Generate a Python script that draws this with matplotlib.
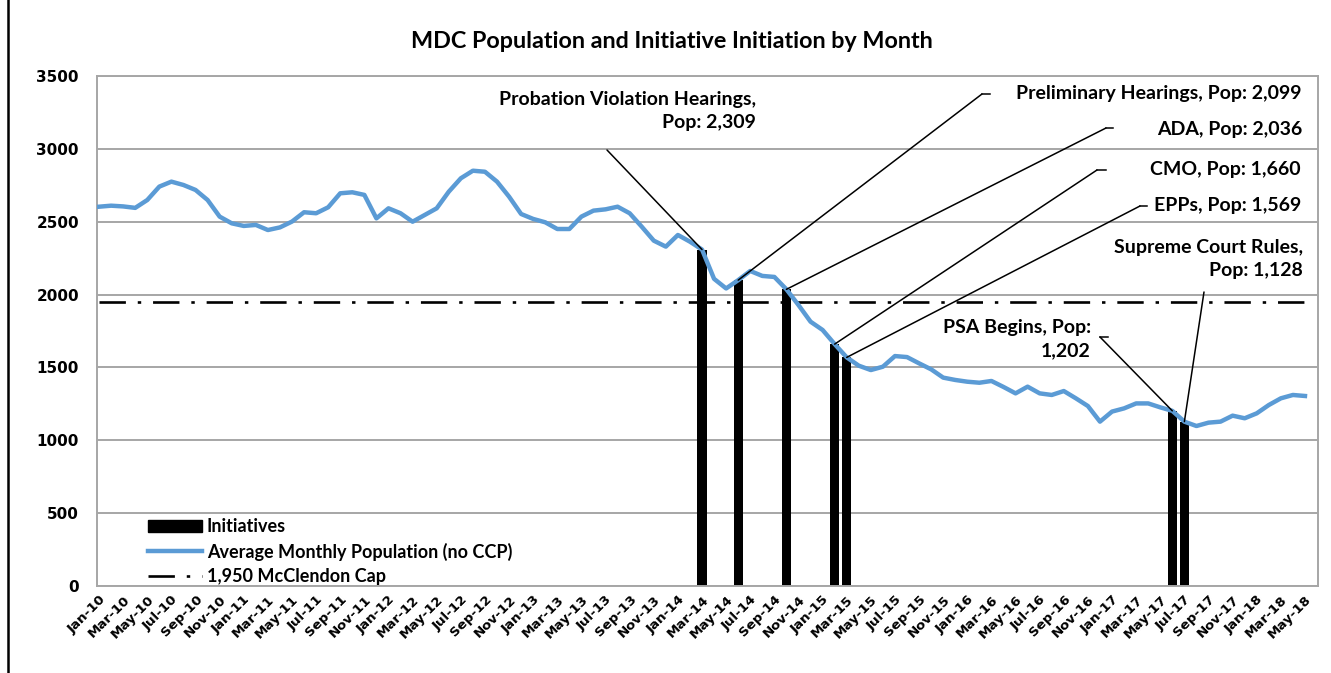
import matplotlib
matplotlib.use("Agg")
import matplotlib.pyplot as plt
from matplotlib.lines import Line2D
from matplotlib.patches import Patch

# ---------------- data ----------------
month_abbr = ['Jan', 'Feb', 'Mar', 'Apr', 'May', 'Jun', 'Jul', 'Aug', 'Sep', 'Oct', 'Nov', 'Dec']
years = ['10', '11', '12', '13', '14', '15', '16', '17', '18']
months = [f"{m}-{y}" for y in years for m in month_abbr][:101]   # Jan-10 .. May-18

population = [
    2603, 2610, 2605, 2595, 2649, 2741, 2775, 2752, 2718, 2649, 2535, 2489,
    2471, 2478, 2443, 2461, 2501, 2565, 2558, 2599, 2695, 2702, 2684, 2523,
    2592, 2558, 2500, 2546, 2592, 2706, 2798, 2850, 2843, 2775, 2672, 2553,
    2519, 2496, 2450, 2450, 2535, 2576, 2585, 2603, 2558, 2466, 2370, 2329,
    2409, 2363, 2309, 2108, 2042, 2099, 2162, 2128, 2121, 2036, 1928, 1814,
    1757, 1660, 1569, 1512, 1482, 1505, 1578, 1571, 1528, 1487, 1430, 1414,
    1402, 1395, 1407, 1366, 1322, 1368, 1322, 1311, 1338, 1288, 1235, 1128,
    1197, 1219, 1253, 1253, 1226, 1202, 1128, 1098, 1121, 1128, 1169, 1151,
    1185, 1242, 1288, 1311, 1304,
]
cap_value = 1950

init_months = ['Mar-14', 'Jun-14', 'Oct-14', 'Feb-15', 'Mar-15', 'Jun-17', 'Jul-17']
init_values = [2309, 2099, 2036, 1660, 1569, 1202, 1128]
init_labels = [
    'Probation Violation Hearings,\nPop: 2,309',
    'Preliminary Hearings, Pop: 2,099',
    'ADA, Pop: 2,036',
    'CMO, Pop: 1,660',
    'EPPs, Pop: 1,569',
    'PSA Begins, Pop:\n1,202',
    'Supreme Court Rules,\nPop: 1,128',
]

# ---------------- figure ----------------
W, H = 1331, 673
fig = plt.figure(figsize=(W / 100, H / 100), dpi=100)
ax = fig.add_axes([97 / W, (H - 586) / H, (1318 - 97) / W, (586 - 76) / H])

LABEL_FONT = ['Lato', 'DejaVu Sans']
TICK_FONT = ['DejaVu Sans']
GRID = '#A6A6A6'
BLUE = '#5B9BD5'
CAP_DASH = (10, 4.5, 1.3, 4.5)

x = list(range(len(months)))
init_x = [months.index(m) for m in init_months]

ax.bar(init_x, init_values, width=0.75, color='black', zorder=2)
ax.plot(x, population, color=BLUE, lw=3.2, solid_joinstyle='round', zorder=3)
ax.plot(x, [cap_value] * len(x), color='black', lw=1.9, dashes=CAP_DASH, zorder=2.5)

ax.set_xlim(-0.17, 101.08)
ax.set_ylim(0, 3500)
ax.set_yticks(range(0, 3501, 500))
ax.set_yticklabels([str(v) for v in range(0, 3501, 500)],
                   fontfamily=TICK_FONT, fontweight='bold', fontsize=11)
ax.set_xticks(x[::2])
ax.set_xticklabels(months[::2], rotation=45, ha='right', va='top',
                   rotation_mode='anchor', fontfamily=TICK_FONT,
                   fontweight='bold', fontsize=9.6)
ax.tick_params(axis='both', length=0)
ax.tick_params(axis='y', pad=13)
ax.tick_params(axis='x', pad=5)
ax.grid(axis='y', color=GRID, lw=1.4, zorder=0)
ax.set_axisbelow(True)
for s in ax.spines.values():
    s.set_color(GRID)
    s.set_linewidth(1.4)

# title
fig.text(672 / W, 1 - 42 / H, 'MDC Population and Initiative Initiation by Month',
         ha='center', va='center', fontfamily=LABEL_FONT, fontweight='bold',
         fontsize=16.8)

# legend
handles = [
    Patch(facecolor='black', edgecolor='black'),
    Line2D([0], [0], color=BLUE, lw=3.2),
    Line2D([0], [0], color='black', lw=1.9, dashes=CAP_DASH),
]
leg = ax.legend(handles, ['Initiatives', 'Average Monthly Population (no CCP)',
                          '1,950 McClendon Cap'],
                loc='lower left', bbox_to_anchor=((138 - 97) / (1318 - 97), -0.017),
                frameon=False, prop={'family': LABEL_FONT, 'weight': 'bold', 'size': 13},
                handlelength=3.0, handleheight=0.65, handletextpad=0.25,
                labelspacing=0.4, borderaxespad=0.15)

# annotations: (text right x, text centre y, elbow x, elbow y, horizontal end x) in image px
def fp(px, py):
    return (px, H - py)

ann = [
    (756, 111, 607, 150, None),
    (1302, 94, 982, 94, 990),
    (1302, 130, 1106, 128, 1113),
    (1301, 169, 1097, 170, 1106),
    (1301, 205, 1140, 206, 1147),
    (1091, 339, 1100, 337, 1108),
    (1303, 259, 1204, 292, None),
]
for (tx, ty, ex, ey, hx), xi, v, lab in zip(ann, init_x, init_values, init_labels):
    fig.text(tx / W, 1 - ty / H, lab, ha='right', va='center', multialignment='right',
             fontfamily=LABEL_FONT, fontweight='bold', fontsize=14, linespacing=1.45)
    ax.annotate('', xy=(xi, v), xycoords='data',
                xytext=fp(ex, ey), textcoords='figure pixels',
                arrowprops=dict(arrowstyle='-', color='black', lw=1.1,
                                shrinkA=0, shrinkB=0), zorder=4)
    if hx is not None:
        fig.add_artist(Line2D([ex / W, hx / W], [1 - ey / H, 1 - ey / H],
                              color='black', lw=1.1))

# outer border (left edge of chart frame)
fig.add_artist(Line2D([8 / W, 8 / W], [0, 1], color='black', lw=1.8))

fig.savefig('out.png', dpi=100)
